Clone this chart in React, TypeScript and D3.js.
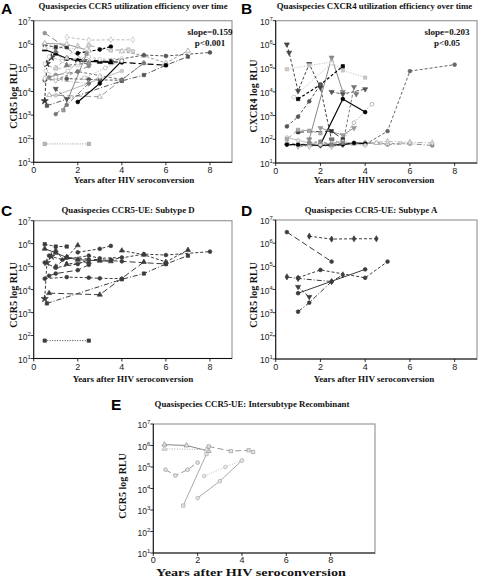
import React from 'react';
import * as d3 from 'd3';

type Pt = [number, number];

// ---------- shared tick values ----------
const xTickValues = [0, 2, 4, 6, 8];
const yTickExponents = [1, 2, 3, 4, 5, 6, 7];

// ---------- Panel C: Subtype D (CCR5 RLU) ----------
const subtypeD: Pt[][] = [
  [[0.5, 60], [2.5, 60]],
  [[0.5, 9.5e5], [1, 7.5e5], [1.5, 7.5e5]],
  [[2, 4.2e5], [3, 6e5], [3.5, 8e5]],
  [[0.7, 7e3], [3, 6e3], [5, 1.6e5]],
  [[0.6, 2.5e3], [4, 2.8e4], [5, 5e4], [6, 1.3e5], [7, 3e5]],
  [[4, 5e5], [5, 3.3e5], [6, 1.6e5], [7, 5.3e5]],
  [[3.5, 2e5], [5, 3.5e5], [6, 3.2e5], [8, 4.5e5]],
  [[1.5, 2.5e5], [4, 1.7e5], [6, 1.3e5]],
  [[0.5, 3e4], [1.5, 3.5e4], [2.5, 3.3e4], [3, 3.1e4], [4, 3e4]],
  [[0.5, 4e3], [0.6, 1.5e5], [0.8, 2.8e5]],
  [[0.5, 1.5e5], [1, 9e4], [2, 1.3e5], [2.5, 2e5]],
  [[0.7, 4e4], [1, 5e4], [2, 7e4], [2.5, 1.2e5]],
  [[0.5, 6e5], [1, 4e5], [1.5, 2.5e5], [2, 2e5], [3, 1.8e5], [3.5, 1.7e5]],
  [[0.7, 3e5], [1.3, 2e5], [2.5, 3e5], [3, 2.3e5], [4, 2.5e5]],
  [[1, 5e5], [1.5, 1.3e5], [2.5, 1.6e5]],
  [[1, 1e5], [1.5, 2.6e5], [2, 8.5e5]],
];
const subtypeDShape = ['square', 'square', 'circle', 'triangle', 'square', 'triangle', 'circle', 'circle', 'circle', 'star', 'circle', 'circle', 'triangle', 'circle', 'triangle', 'triangle'];
const subtypeDDash = ['dot', 'dash', 'dash', 'long', 'dashdot', 'dash', 'dash', 'long', 'dash', 'dash', 'dash', 'long', 'solid', 'dash', 'dash', 'dash'];

// ---------- Panel D: Subtype A ----------
const subtypeA: Pt[][] = [
  [[0.5, 3e6], [2.5, 1.6e5]],
  [[1.5, 2e6], [2.5, 1.5e6], [3.5, 1.55e6], [4.5, 1.55e6]],
  [[1, 3.2e4], [2, 7e4], [4, 3.2e4], [5, 1.6e5]],
  [[0.5, 3.5e4], [1, 3e4], [2.5, 2.2e4], [3, 4.3e4]],
  [[1, 6.9e3], [4, 7.4e4]],
  [[1, 1.1e3], [1.5, 2.7e3], [2.5, 2.2e4]],
  [[1, 1.3e4], [1.5, 4.8e3]],
];
const subtypeAShape = ['circle', 'diamond', 'circle', 'diamond', 'circle', 'circle', 'dntri'];
const subtypeADash = ['long', 'dash', 'dash', 'dashdot', 'solid', 'dashdot', 'dash'];

// ---------- Panel E: Intersubtype recombinant ----------
const recombinant: Pt[][] = [
  [[0.5, 1.1e6], [1.5, 1e6], [2.5, 5.5e5]],
  [[0.5, 7e5], [2.4, 6.5e5]],
  [[2.5, 9e5], [3.5, 5.5e5], [4.3, 6e5], [4.5, 5e5]],
  [[1.35, 1.6e3], [2.4, 4e5]],
  [[0.55, 7.5e4], [1, 4e4], [1.55, 7.5e4], [2, 1.6e5]],
  [[2, 3.6e3], [3, 2.2e4], [4, 2e5]],
  [[2.3, 3.8e4], [3.25, 1e5], [4, 2e5]],
];
const recombinantShape = ['triangle', 'triangle', 'square', 'square', 'circle', 'circle', 'circle'];
const recombinantDash = ['solid', 'dot', 'long', 'solid', 'long', 'solid', 'dot'];
const recombinantStroke = ['#888', '#aaa', '#999', '#aaa', '#999', '#aaa', '#bbb'];

// ---------- Panel B: CXCR4 RLU ----------
const cxcr4: Pt[][] = [
  [[0.5, 1e6], [0.6, 4.5e5], [1, 1.1e4], [1.5, 1.5e5], [2, 1.5e4], [2.5, 90]],
  [[1.5, 100], [2.5, 2.8e5], [3, 1e4]],
  [[0.5, 9e4], [1.5, 1.3e5], [2.5, 1.8e5], [3, 8e4], [4, 4e4]],
  [[1, 5e3], [2, 2e4], [3, 1.2e5]],
  [[2, 60], [3, 5e3], [4, 1.4e3]],
  [[0.5, 350], [1, 900], [1.5, 4e3], [2, 2e4]],
  [[2.5, 1e4], [3, 8e3], [4, 1.3e4]],
  [[0.8, 6e3], [2.5, 1.6e5]],
  [[2.5, 100], [3, 60], [3.5, 1.6e4], [3.6, 8e3]],
  [[3, 90], [3.5, 500], [4.3, 3e3]],
  [[2, 300], [3, 150], [3.5, 300]],
  [[0.5, 60], [1, 55], [2, 60], [3, 60], [4, 70], [5, 60], [6, 65], [7, 55]],
  [[0.5, 70], [1, 65], [1.5, 60], [2.5, 55], [3.5, 65], [4.5, 70], [5, 65], [6, 70]],
  [[4, 60], [5, 220], [6, 7.5e4], [8, 1.4e5]],
  [[1, 50], [1.5, 50], [2, 55], [2.5, 50], [3, 60], [4, 70], [5, 80], [6, 75], [7, 70]],
  [[0.5, 60], [1, 60], [2, 55], [3, 60], [3.5, 70], [4, 65]],
  [[1, 200], [2.5, 220], [3, 100]],
  [[0.5, 120], [1, 90], [1.5, 70], [2, 60], [2.5, 70], [3, 80], [4, 55]],
  [[1.5, 70], [2, 80], [2.5, 60], [3, 70]],
  [[0.5, 100], [1, 250], [1.5, 230], [2, 180]],
];
const cxcr4Shape = ['dntri', 'dntri', 'square', 'square', 'circle', 'circle', 'dntri', 'circle', 'dntri', 'circle', 'dntri', 'circle', 'triangle', 'circle', 'diamond', 'circle', 'square', 'circle', 'square', 'square'];
const cxcr4Dash = ['dash', 'solid', 'dot', 'dash', 'solid', 'dash', 'dash', 'dot', 'dash', 'dot', 'solid', 'dashdot', 'dash', 'dash', 'dashdot', 'solid', 'long', 'solid', 'dash', 'long'];
const cxcr4Stroke = ['#444', '#888', '#bbb', '#000', '#000', '#555', '#555', '#bbb', '#777', '#999', '#999', '#888', '#999', '#666', '#aaa', '#000', '#333', '#bbb', '#777', '#999'];
const cxcr4Fill = ['#444', '#888', '#ccc', '#000', '#000', '#555', '#555', '#fff', '#777', '#fff', '#999', '#888', '#fff', '#666', '#ddd', '#000', '#333', '#ddd', '#888', '#aaa'];

// ---------- Panel A: all quasispecies (C + D + E) styles ----------
const allStroke = ['#999', '#333', '#000', '#999', '#555', '#999', '#555', '#000', '#555', '#333', '#bbb', '#888', '#000', '#bbb', '#777', '#aaa',
  '#888', '#bbb', '#777', '#aaa', '#bbb', '#777', '#555',
  '#999', '#bbb', '#aaa', '#888', '#bbb', '#000', '#aaa'];
const allFill = ['#bbb', '#333', '#000', '#fff', '#555', '#fff', '#555', '#000', '#555', '#333', '#fff', '#888', '#000', '#fff', '#777', '#ddd',
  '#999', '#fff', '#777', '#fff', '#ccc', '#777', '#555',
  '#fff', '#fff', '#ddd', '#999', '#fff', '#000', '#fff'];

const dashMap: Record<string, string> = {
  solid: '',
  dash: '3,2',
  long: '6,3',
  dot: '1,1.5',
  dashdot: '5,2,1,2',
};

const symbolMap: Record<string, d3.SymbolType> = {
  circle: d3.symbolCircle,
  square: d3.symbolSquare,
  triangle: d3.symbolTriangle,
  dntri: d3.symbolTriangle,
  diamond: d3.symbolDiamond,
  star: d3.symbolStar,
};

const SERIF = "'Liberation Serif', 'Times New Roman', serif";
const SANS = "'Liberation Sans', Arial, Helvetica, sans-serif";

interface Box { l: number; t: number; r: number; b: number }

interface PanelProps {
  box: Box;
  xMax: number;
  series: Pt[][];
  shapes: string[];
  dashes: string[];
  strokes: string[];
  fills: string[];
  tickFont?: number;
  xTickGap?: number;
}

function Panel({ box, xMax, series, shapes, dashes, strokes, fills, tickFont = 8.5, xTickGap = 11 }: PanelProps) {
  const x = d3.scaleLinear().domain([0, xMax]).range([box.l, box.r]);
  const y = d3.scaleLog().domain([10, 1e7]).range([box.b, box.t]);
  const line = d3.line<Pt>().x((d) => x(d[0])).y((d) => y(d[1]));
  return (
    <g>
      {/* frame */}
      <rect x={box.l} y={box.t} width={box.r - box.l} height={box.b - box.t} fill="#fff" stroke="#9a9a9a" strokeWidth={1.2} />
      {series.map((s, i) => (
        <path key={'l' + i} d={line(s) || ''} fill="none" stroke={strokes[i]} strokeWidth={strokes[i] === '#000' ? 1.2 : 1} strokeDasharray={dashMap[dashes[i]]} />
      ))}
      {series.map((s, i) =>
        s.map((p, j) => {
          const sym = d3.symbol().type(symbolMap[shapes[i]]).size(shapes[i] === 'star' ? 16 : 11);
          return (
            <path
              key={'m' + i + '-' + j}
              d={sym() || ''}
              transform={`translate(${x(p[0])},${y(p[1])})${shapes[i] === 'dntri' ? ' rotate(180)' : ''}`}
              fill={fills[i]}
              stroke={strokes[i]}
              strokeWidth={0.7}
            />
          );
        })
      )}
      {/* axes */}
      <line x1={box.l} x2={box.l} y1={box.t} y2={box.b} stroke="#000" strokeWidth={0.9} />
      <line x1={box.l} x2={box.r} y1={box.b} y2={box.b} stroke="#000" strokeWidth={0.9} />
      {yTickExponents.map((e) => (
        <g key={'y' + e}>
          <line x1={box.l - 3} x2={box.l} y1={y(Math.pow(10, e))} y2={y(Math.pow(10, e))} stroke="#000" strokeWidth={0.8} />
          <text x={box.l - 3} y={y(Math.pow(10, e)) + 4} textAnchor="end" fontFamily={SANS} fontSize={tickFont} fill="#222">
            10<tspan dy={-4} fontSize={tickFont * 0.7}>{e}</tspan>
          </text>
        </g>
      ))}
      {xTickValues.map((v) => (
        <g key={'x' + v}>
          <line x1={x(v)} x2={x(v)} y1={box.b} y2={box.b + 3} stroke="#000" strokeWidth={0.8} />
          <text x={x(v)} y={box.b + xTickGap} textAnchor="middle" fontFamily={SANS} fontSize={tickFont + 0.5} fill="#222">
            {v}
          </text>
        </g>
      ))}
    </g>
  );
}

function Title({ x, y, text }: { x: number; y: number; text: string }) {
  return (
    <text x={x} y={y} textAnchor="middle" fontFamily={SERIF} fontWeight="bold" fontSize={8.8} fill="#111">
      {text}
    </text>
  );
}

function Letter({ x, y, text }: { x: number; y: number; text: string }) {
  return (
    <text x={x} y={y} fontFamily={SANS} fontWeight="bold" fontSize={15.5} fill="#000">
      {text}
    </text>
  );
}

function YLabel({ x, y, text }: { x: number; y: number; text: string }) {
  return (
    <text transform={`translate(${x},${y}) rotate(-90)`} textAnchor="middle" fontFamily={SERIF} fontWeight="bold" fontSize={10} fill="#111">
      {text}
    </text>
  );
}

function XLabel({ x, y, text, len, size = 9 }: { x: number; y: number; text: string; len?: number; size?: number }) {
  return (
    <text x={x} y={y} textAnchor="middle" fontFamily={SERIF} fontWeight="bold" fontSize={size} fill="#111" textLength={len} lengthAdjust={len ? 'spacingAndGlyphs' : undefined}>
      {text}
    </text>
  );
}

export default function App() {
  const allSeries = [...subtypeD, ...subtypeA, ...recombinant];
  const allShapes = [...subtypeDShape, ...subtypeAShape, ...recombinantShape];
  const allDashes = [...subtypeDDash, ...subtypeADash, ...recombinantDash];
  const darkD = subtypeD.map(() => '#3c3c3c');
  const darkA = subtypeA.map(() => '#3c3c3c');
  const recFill = recombinant.map(() => '#e4e4e4');
  const xAxisTitle = 'Years after HIV seroconversion';

  const boxA = { l: 33.7, t: 20.7, r: 232, b: 162.3 };
  const boxB = { l: 275.7, t: 20.7, r: 477, b: 163 };
  const boxC = { l: 33.7, t: 220.7, r: 232, b: 358.5 };
  const boxD = { l: 275.7, t: 220, r: 477, b: 359 };
  const boxE = { l: 153.3, t: 424, r: 375, b: 553 };

  return (
    <svg width={479} height={578} style={{ position: 'absolute', left: 0, top: 0, background: '#fff' }}>
      <rect x={0} y={0} width={479} height={578} fill="#fff" />

      {/* Panel A */}
      <Letter x={1} y={14} text="A" />
      <Title x={133} y={9} text="Quasispecies CCR5 utilization efficiency over time" />
      <Panel box={boxA} xMax={9} series={allSeries} shapes={allShapes} dashes={allDashes} strokes={allStroke} fills={allFill} />
      <text x={210} y={34.5} textAnchor="middle" fontFamily={SERIF} fontWeight="bold" fontSize={9} fill="#111">slope=0.159</text>
      <text x={210} y={46} textAnchor="middle" fontFamily={SERIF} fontWeight="bold" fontSize={9} fill="#111">p&lt;0.001</text>
      <YLabel x={17} y={96} text="CCR5 log RLU" />
      <XLabel x={134} y={183} text={xAxisTitle} />

      {/* Panel B */}
      <Letter x={241} y={14} text="B" />
      <Title x={374.5} y={9} text="Quasispecies CXCR4 utilization efficiency over time" />
      <Panel box={boxB} xMax={9} series={cxcr4} shapes={cxcr4Shape} dashes={cxcr4Dash} strokes={cxcr4Stroke} fills={cxcr4Fill} />
      <text x={447} y={34.5} textAnchor="middle" fontFamily={SERIF} fontWeight="bold" fontSize={9} fill="#111">slope=0.203</text>
      <text x={447} y={46} textAnchor="middle" fontFamily={SERIF} fontWeight="bold" fontSize={9} fill="#111">p&lt;0.05</text>
      <YLabel x={257} y={96} text="CXCR4 log RLU" />
      <XLabel x={374} y={183} text={xAxisTitle} />

      {/* Panel C */}
      <Letter x={1} y={216} text="C" />
      <Title x={128} y={213} text="Quasispecies CCR5-UE: Subtype D" />
      <Panel box={boxC} xMax={9} series={subtypeD} shapes={subtypeDShape} dashes={subtypeDDash} strokes={darkD} fills={darkD} />
      <YLabel x={17} y={295} text="CCR5 log RLU" />
      <XLabel x={133} y={382} text={xAxisTitle} />

      {/* Panel D */}
      <Letter x={241} y={216} text="D" />
      <Title x={371} y={213} text="Quasispecies CCR5-UE: Subtype A" />
      <Panel box={boxD} xMax={9} series={subtypeA} shapes={subtypeAShape} dashes={subtypeADash} strokes={darkA} fills={darkA} />
      <YLabel x={257} y={295} text="CCR5 log RLU" />
      <XLabel x={374} y={382} text={xAxisTitle} />

      {/* Panel E */}
      <Letter x={111} y={410} text="E" />
      <Title x={252} y={407} text="Quasispecies CCR5-UE: Intersubtype Recombinant" />
      <Panel box={boxE} xMax={10} series={recombinant} shapes={recombinantShape} dashes={recombinantDash} strokes={recombinantStroke} fills={recFill} xTickGap={10} />
      <YLabel x={126} y={486} text="CCR5 log RLU" />
      <XLabel x={251} y={575.5} text={xAxisTitle} size={9.5} len={190} />
    </svg>
  );
}
